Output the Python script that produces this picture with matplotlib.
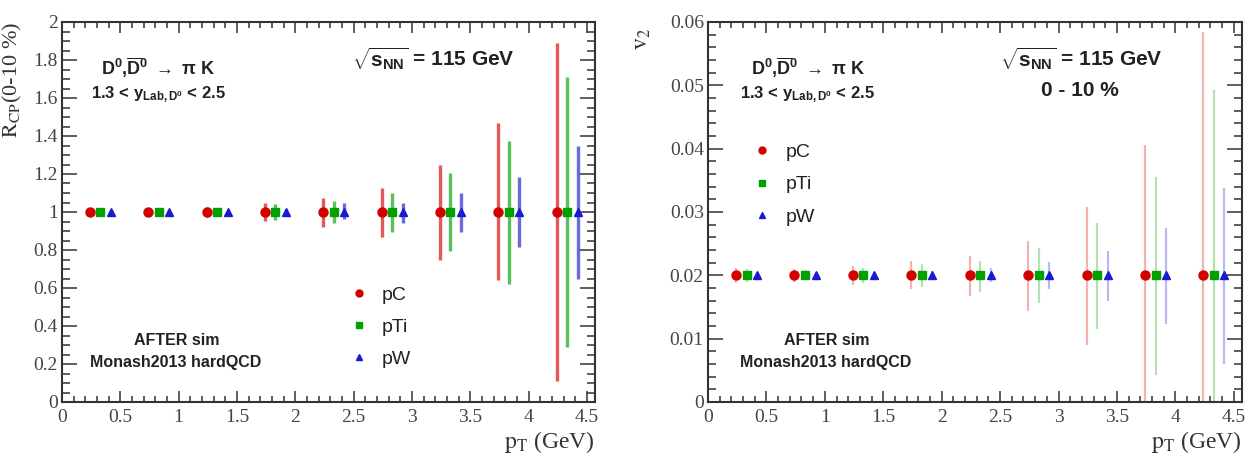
import matplotlib
matplotlib.use("Agg")
import matplotlib.pyplot as plt
from matplotlib.ticker import MultipleLocator, FuncFormatter
from matplotlib.lines import Line2D
import numpy as np

# ---------------- data ----------------
pt_bins = [0.25, 0.75, 1.25, 1.75, 2.25, 2.75, 3.25, 3.75, 4.25]
systems = ["pC", "pTi", "pW"]
x_shift = [-0.01, 0.08, 0.17]

rcp_val = [1.0] * 9
rcp_err_lo_pC = [0.02, 0.02, 0.025, 0.045, 0.08, 0.13, 0.25, 0.36, 0.89]
rcp_err_hi_pC = [0.02, 0.02, 0.025, 0.045, 0.074, 0.128, 0.25, 0.47, 0.89]
rcp_err_lo_pTi = [0.02, 0.015, 0.02, 0.04, 0.056, 0.104, 0.204, 0.38, 0.71]
rcp_err_hi_pTi = [0.02, 0.015, 0.02, 0.04, 0.058, 0.10, 0.203, 0.375, 0.71]
rcp_err_lo_pW = [0.01, 0.01, 0.01, 0.015, 0.035, 0.056, 0.104, 0.186, 0.35]
rcp_err_hi_pW = [0.01, 0.01, 0.01, 0.015, 0.045, 0.05, 0.10, 0.186, 0.349]

v2_val = [0.02] * 9
v2_err_lo_pC = [0.0012, 0.0010, 0.0015, 0.0022, 0.0032, 0.0056, 0.011, 0.025, 0.04]
v2_err_hi_pC = [0.0012, 0.0010, 0.0015, 0.0022, 0.0030, 0.0054, 0.0108, 0.0205, 0.0385]
v2_err_lo_pTi = [0.0010, 0.0008, 0.0012, 0.0018, 0.0026, 0.0043, 0.0085, 0.0158, 0.03]
v2_err_hi_pTi = [0.0010, 0.0008, 0.0012, 0.0018, 0.0023, 0.0043, 0.0083, 0.0156, 0.0293]
v2_err_lo_pW = [0.0005, 0.0004, 0.0006, 0.0007, 0.0011, 0.0021, 0.0041, 0.0077, 0.014]
v2_err_hi_pW = [0.0005, 0.0004, 0.0006, 0.0007, 0.0011, 0.0021, 0.0039, 0.0074, 0.0138]

# ---------------- style ----------------
plt.rcParams['mathtext.fontset'] = 'custom'
plt.rcParams['mathtext.rm'] = 'Liberation Sans:bold'
plt.rcParams['mathtext.it'] = 'Liberation Sans:bold'
plt.rcParams['mathtext.bf'] = 'Liberation Sans:bold'
plt.rcParams['mathtext.sf'] = 'Liberation Sans:bold'

colors = ["#d40000", "#00a000", "#1a1ad0"]
markers = ["o", "s", "^"]
msizes = [6.5, 6, 6]
frame_col = "#333333"
tick_font = "Liberation Serif"
ann_font = "Liberation Sans"

fig = plt.figure(figsize=(12.58, 4.63), dpi=100)
axL = fig.add_axes([62 / 1258, 61 / 463, 533 / 1258, 380 / 463])
axR = fig.add_axes([708 / 1258, 61 / 463, 534 / 1258, 380 / 463])


def style_axes(ax, ymax, ymaj, ymin):
    ax.set_xlim(0, 4.57)
    ax.set_ylim(0, ymax)
    ax.xaxis.set_major_locator(MultipleLocator(0.5))
    ax.xaxis.set_minor_locator(MultipleLocator(0.1))
    ax.yaxis.set_major_locator(MultipleLocator(ymaj))
    ax.yaxis.set_minor_locator(MultipleLocator(ymin))
    fmt = FuncFormatter(lambda v, p: ("%.4g" % v) if abs(v) > 1e-12 else "0")
    ax.xaxis.set_major_formatter(fmt)
    ax.yaxis.set_major_formatter(fmt)
    for s in ax.spines.values():
        s.set_linewidth(1.5)
        s.set_color(frame_col)
    ax.tick_params(axis='both', which='both', direction='in', top=True, right=True,
                   colors=frame_col, width=1.1)
    ax.tick_params(axis='y', which='major', length=11, pad=3)
    ax.tick_params(axis='y', which='minor', length=5.5)
    ax.tick_params(axis='x', which='major', length=8, pad=5)
    ax.tick_params(axis='x', which='minor', length=4)
    for lab in ax.get_xticklabels() + ax.get_yticklabels():
        lab.set_fontfamily(tick_font)
        lab.set_fontsize(14)
        lab.set_color("#444444")
    ax.set_xlabel(r"$\mathrm{p}_{\mathrm{T}}$ (GeV)", fontfamily=tick_font, fontsize=17,
                  math_fontfamily='stix', color="#333333", loc='right', labelpad=2)


def draw(ax, vals, lo_list, hi_list, err_alpha, err_lw):
    for i, s in enumerate(systems):
        xs = np.array(pt_bins) + x_shift[i]
        ax.errorbar(xs, vals, yerr=[lo_list[i], hi_list[i]], fmt='none',
                    ecolor=colors[i], elinewidth=err_lw, alpha=err_alpha, capsize=0, zorder=2)
        ax.plot(xs, vals, linestyle='none', marker=markers[i], ms=msizes[i],
                color=colors[i], mec=colors[i], zorder=3)


def legend(ax, bbox, spacing):
    handles = [Line2D([], [], linestyle='none', marker=markers[i], ms=5, color=colors[i])
               for i in range(3)]
    leg = ax.legend(handles, systems, loc='upper left', bbox_to_anchor=bbox, frameon=False,
                    prop={'family': ann_font, 'size': 14}, labelspacing=spacing,
                    handletextpad=0.6, handlelength=1.2, borderpad=0, borderaxespad=0)
    for t in leg.get_texts():
        t.set_color("#222222")


style_axes(axL, 2.0, 0.2, 0.05)
style_axes(axR, 0.06, 0.01, 0.002)

draw(axL, rcp_val, [rcp_err_lo_pC, rcp_err_lo_pTi, rcp_err_lo_pW],
     [rcp_err_hi_pC, rcp_err_hi_pTi, rcp_err_hi_pW], 0.65, 2.4)
draw(axR, v2_val, [v2_err_lo_pC, v2_err_lo_pTi, v2_err_lo_pW],
     [v2_err_hi_pC, v2_err_hi_pTi, v2_err_hi_pW], 0.3, 1.6)

axL.set_ylabel(r"$\mathrm{R}_{\mathrm{CP}}$(0-10 %)", fontfamily=tick_font, fontsize=16,
               math_fontfamily='stix', color="#333333", loc='top')
axL.yaxis.set_label_coords(-0.072, 1.0)
axR.set_ylabel(r"$\mathrm{v}_{2}$", fontfamily=tick_font, fontsize=17,
               math_fontfamily='stix', color="#333333", loc='top')
axR.yaxis.set_label_coords(-0.103, 0.985)

txt_col = "#222222"
for ax, xc in ((axL, 0.18), (axR, 0.187)):
    ax.text(xc, 0.879, r"D$^{0}$,$\overline{\mathrm{D}}^{0}$ $\rightarrow$ $\pi$ K",
            transform=ax.transAxes, ha='center', va='center', fontfamily=ann_font,
            fontweight='bold', fontsize=13, color=txt_col)
    ax.text(xc, 0.808, r"1.3 < y$_{\mathrm{Lab,D^{0}}}$ < 2.5",
            transform=ax.transAxes, ha='center', va='center', fontfamily=ann_font,
            fontweight='bold', fontsize=12, color=txt_col)
    ax.text(xc + 0.036, 0.163, "AFTER sim", transform=ax.transAxes, ha='center', va='center',
            fontfamily=ann_font, fontweight='bold', fontsize=11.5, color=txt_col)
    ax.text(xc + 0.034, 0.103, "Monash2013 hardQCD", transform=ax.transAxes, ha='center',
            va='center', fontfamily=ann_font, fontweight='bold', fontsize=11.5, color=txt_col)

for ax, xc in ((axL, 0.696), (axR, 0.699)):
    ax.text(xc, 0.905, r"$\sqrt{\mathrm{s}_{\mathrm{NN}}}$ = 115 GeV", transform=ax.transAxes,
            ha='center', va='center', fontfamily=ann_font, fontweight='bold', fontsize=15,
            color=txt_col)
axR.text(0.697, 0.821, "0 - 10 %", transform=axR.transAxes, ha='center', va='center',
         fontfamily=ann_font, fontweight='bold', fontsize=15, color=txt_col)

legend(axL, (0.535, 0.305), 0.75)
legend(axR, (0.08, 0.68), 0.75)

fig.savefig("out.png", dpi=100)
